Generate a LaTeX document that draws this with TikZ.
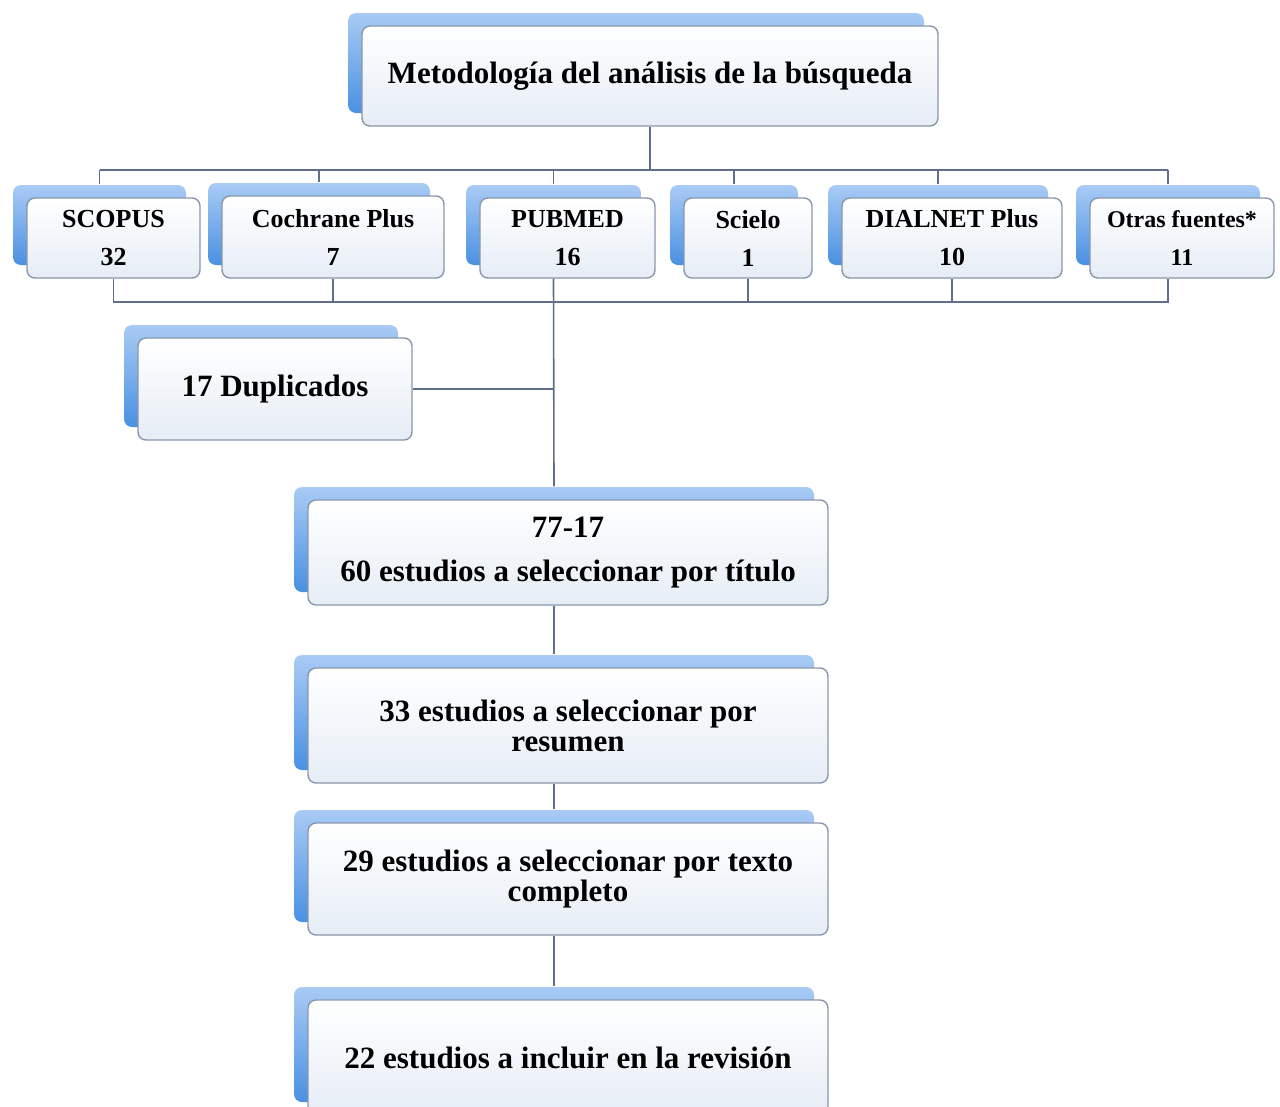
\documentclass[tikz,border=0pt]{standalone}
\usepackage{fontspec}
\setmainfont{Liberation Serif}
\usetikzlibrary{shadows, positioning}
\definecolor{wirecol}{HTML}{5F6F8A}
\definecolor{boxline}{HTML}{8A97AB}
\definecolor{frbot}{HTML}{E6EDF6}
\definecolor{shtop}{HTML}{A9CBF5}
\definecolor{shbot}{HTML}{4A90E2}
\begin{document}
\begin{tikzpicture}[x=1pt, y=-1pt,
    dbox/.style={draw=boxline, line width=1.4pt, rounded corners=8pt,
        top color=white, bottom color=frbot, align=center, inner sep=0pt,
        font=\bfseries\fontsize{31}{30}\selectfont,
        general shadow={shadow xshift=-14pt, shadow yshift=13pt,
            top color=shtop, bottom color=shbot}},
    srcbox/.style={dbox, minimum height=80pt, font=\bfseries\fontsize{26}{29}\selectfont},
    wire/.style={draw=wirecol, line width=1.6pt}]
\useasboundingbox (0,0) rectangle (1280,1106);

% Title block
\node[dbox, minimum width=576pt, minimum height=100pt] (metodo) at (650,76)
    {Metodología del análisis de la búsqueda};

% Sources
\node[srcbox, minimum width=173pt] (scopus) at (113.5,238)
    {SCOPUS\\[9pt] 32};
\node[srcbox, minimum width=222pt, minimum height=82pt] (cochrane) at (333,237)
    {Cochrane Plus\\[9pt] 7};
\node[srcbox, minimum width=175pt] (pubmed) at (567.5,238)
    {PUBMED\\[9pt] 16};
\node[srcbox, minimum width=128pt] (scielo) at (748,238)
    {Scielo\\[9pt] 1};
\node[srcbox, minimum width=220pt] (dialnet) at (952,238)
    {DIALNET Plus\\[9pt] 10};
\node[srcbox, minimum width=184pt, font=\bfseries\fontsize{24}{29}\selectfont] (otras) at (1182,238)
    {Otras fuentes*\\[9pt] 11};

% Duplicates
\node[dbox, minimum width=274pt, minimum height=102pt] (dupl) at (275,389)
    {17 Duplicados};

% Selection steps
\node[dbox, minimum width=520pt, minimum height=105pt] (sel60) at (568,552.5)
    {77-17\\[14pt] 60 estudios a seleccionar por título};
\node[dbox, minimum width=520pt, minimum height=115pt] (sel33) at (568,725.5)
    {33 estudios a seleccionar por\\ resumen};
\node[dbox, minimum width=520pt, minimum height=112pt] (sel29) at (568,879)
    {29 estudios a seleccionar por texto\\ completo};
\node[dbox, minimum width=520pt, minimum height=115pt] (sel22) at (568,1057.5)
    {22 estudios a incluir en la revisión};

% entry points on the back panels
\foreach \b in {scopus,cochrane,pubmed,scielo,dialnet,otras,sel60,sel33,sel29,sel22}
    \coordinate (\b-in) at ([shift={(-14pt,13pt)}]\b.north);
\coordinate (busA) at (0,170);
\coordinate (busB) at (0,302);

% Lines
\draw[wire] (metodo.south) -- (metodo.south |- busA);
\draw[wire] (scopus-in |- busA) -- (otras-in |- busA);
\foreach \b in {scopus,cochrane,pubmed,scielo,dialnet,otras}
    \draw[wire] (\b-in |- busA) -- (\b-in);

\draw[wire] (scopus.south) -- (scopus.south |- busB) -- (otras-in |- busB)
    -- (otras-in |- otras.south);
\draw[wire] (cochrane.south) -- (cochrane.south |- busB);
\draw[wire] (scielo.south) -- (scielo.south |- busB);
\draw[wire] (dialnet.south) -- (dialnet.south |- busB);
\draw[wire] (pubmed-in |- pubmed.south) -- (sel60-in);
\draw[wire] (dupl.east) -- (dupl.east -| sel60-in);

\draw[wire] (sel60-in |- sel60.south) -- (sel33-in);
\draw[wire] (sel33-in |- sel33.south) -- (sel29-in);
\draw[wire] (sel29-in |- sel29.south) -- (sel22-in);

\end{tikzpicture}
\end{document}
